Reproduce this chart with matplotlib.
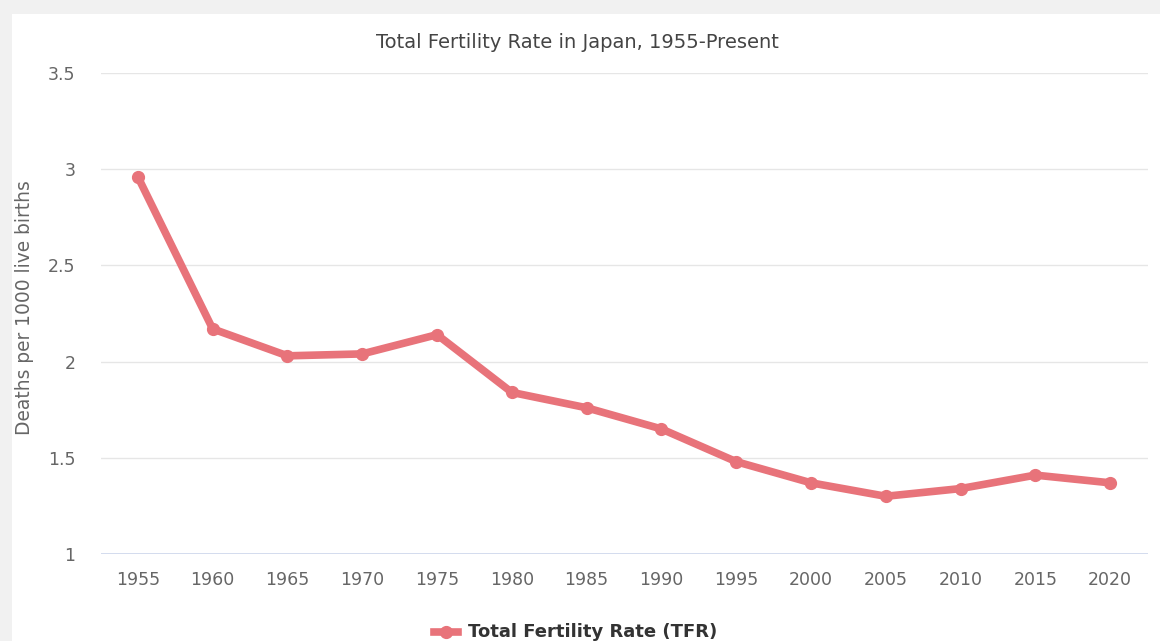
import matplotlib
matplotlib.use("Agg")
import matplotlib.pyplot as plt
from matplotlib.patches import Rectangle
from matplotlib.lines import Line2D

years = ["1955", "1960", "1965", "1970", "1975", "1980", "1985",
         "1990", "1995", "2000", "2005", "2010", "2015", "2020"]
tfr = [2.96, 2.17, 2.03, 2.04, 2.14, 1.84, 1.76,
       1.65, 1.48, 1.37, 1.30, 1.34, 1.41, 1.37]
y_ticks = [1, 1.5, 2, 2.5, 3, 3.5]
y_tick_labels = ["1", "1.5", "2", "2.5", "3", "3.5"]

W, H = 1160, 641
plt.rcParams["font.family"] = ["DejaVu Sans"]
fig = plt.figure(figsize=(W / 100, H / 100), dpi=100)
fig.patch.set_facecolor("#f1f1f1")

# white card behind the chart
card = Rectangle((12 / W, 0), 1, 1 - 14 / H, transform=fig.transFigure,
                 facecolor="white", edgecolor="none", zorder=-5)
fig.add_artist(card)

left, right = 100.5 / W, 1147.5 / W
bottom, top = 1 - 554 / H, 1 - 73 / H
ax = fig.add_axes([left, bottom, right - left, top - bottom])
ax.set_zorder(2)
ax.set_facecolor("none")

line_color = "#e8737a"
x = list(range(len(years)))
ax.plot(x, tfr, color=line_color, lw=5.5, solid_capstyle="round",
        solid_joinstyle="round", marker="o", markersize=8.5,
        markerfacecolor=line_color, markeredgecolor=line_color, zorder=3)

ax.set_xlim(-0.5, len(years) - 0.5)
ax.set_ylim(1, 3.5)
ax.set_xticks(x)
ax.set_xticklabels(years)
ax.set_yticks(y_ticks)
ax.set_yticklabels(y_tick_labels)

for yv in y_ticks[1:]:
    ax.axhline(yv, color="#e6e6e6", lw=1, zorder=1)
ax.axhline(1, color="#ccd6eb", lw=1.2, zorder=2)

for s in ax.spines.values():
    s.set_visible(False)
ax.tick_params(axis="both", length=0, labelsize=12.5, labelcolor="#666666")
ax.tick_params(axis="x", pad=12)
ax.tick_params(axis="y", pad=18)

fig.text(577 / W, 1 - 42 / H, "Total Fertility Rate in Japan, 1955-Present",
         ha="center", va="center", fontsize=14, color="#444444")
fig.text(25 / W, 1 - 308 / H, "Deaths per 1000 live births", rotation=90,
         ha="center", va="center", fontsize=13.4, color="#666666")

# legend entry
fig.add_artist(Line2D([434 / W, 458 / W], [1 - 632 / H, 1 - 632 / H],
                      transform=fig.transFigure, color=line_color, lw=5.5))
fig.add_artist(Line2D([446 / W], [1 - 632 / H], transform=fig.transFigure,
                      color=line_color, marker="o", markersize=8.5, lw=0))
fig.text(468 / W, 1 - 632 / H, "Total Fertility Rate (TFR)", ha="left", va="center",
         fontsize=13, fontweight="bold", color="#333333")

fig.savefig("out.png", dpi=100, facecolor=fig.get_facecolor())
